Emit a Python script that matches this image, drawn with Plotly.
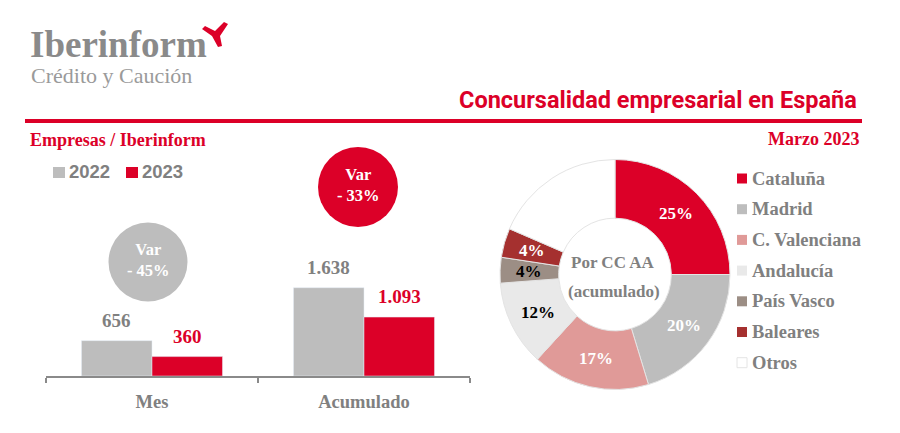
import math
import plotly.graph_objects as go

W, H = 900, 433
periods = ["Mes", "Acumulado"]
series_names = ["2022", "2023"]
values_2022 = [656, 1638]
values_2023 = [360, 1093]
regions = ["Cataluña", "Madrid", "C. Valenciana", "Andalucía", "País Vasco", "Baleares", "Otros"]
shares = [25, 20.3, 16.5, 12, 3.6, 4.1, 18.5]
share_labels = ["25%", "20%", "17%", "12%", "4%", "4%", ""]
variation_labels = ["Var<br>- 45%", "Var<br>- 33%"]

RED = "#DC0028"
GRAY = "#BDBDBD"
TXT = "#808080"
SLAB = "Liberation Serif"
region_colors = [RED, GRAY, "#E09A98", "#E9E9E9", "#9C8E85", "#A5302F", "#FFFFFF"]
label_colors = ["white", "white", "white", "black", "black", "white", "white"]

px = lambda x: x / W
py = lambda y: 1 - y / H

def fmt(v):
    return f"{v:,}".replace(",", ".")

fig = go.Figure()
fig.add_bar(x=periods, y=values_2022, name=series_names[0], marker_color=GRAY, showlegend=False)
fig.add_bar(x=periods, y=values_2023, name=series_names[1], marker_color=RED, showlegend=False)
fig.add_pie(
    labels=regions, values=shares, sort=False, direction="clockwise", rotation=0,
    hole=0.49, domain=dict(x=[px(500), px(730)], y=[py(389.5), py(159.5)]),
    marker=dict(colors=region_colors, line=dict(color="#E4E4E4", width=1)),
    textinfo="none", showlegend=False,
)

shapes = []
annotations = []
PAD = {"left": -2, "center": 0, "right": 2}

def text(x, y, s, size, color, anchor="left", family=SLAB, weight="bold"):
    annotations.append(dict(
        xref="paper", yref="paper", x=px(x + PAD[anchor]), y=py(y), text=s, showarrow=False,
        xanchor=anchor, yanchor="middle", align=anchor,
        font=dict(family=family, size=size, color=color, weight=weight),
    ))

def rect(x0, y0, x1, y1, color, line=None):
    shapes.append(dict(type="rect", xref="paper", yref="paper", x0=px(x0), x1=px(x1),
                       y0=py(y0), y1=py(y1), fillcolor=color,
                       line=dict(color=line or color, width=1 if line else 0)))

def circle(cx, cy, r, color):
    shapes.append(dict(type="circle", xref="paper", yref="paper", x0=px(cx - r), x1=px(cx + r),
                       y0=py(cy + r), y1=py(cy - r), fillcolor=color, line=dict(width=0)))

# logo
text(30, 45, "Iberinform", 37, "#8A8A8A")
text(31, 76, "Crédito y Caución", 22, "#9A9A9A", family="Liberation Serif", weight="normal")
star = [(228, 24), (220, 36), (222, 46), (218, 47), (212, 36), (202, 29), (205, 26), (215, 31), (224, 22)]
shapes.append(dict(type="path", xref="paper", yref="paper", fillcolor=RED, line=dict(width=0),
                   path="M " + " L ".join(f"{px(a)},{py(b)}" for a, b in star) + " Z"))

# header
text(857, 100, "Concursalidad empresarial en España", 23.5, RED, "right", "Roboto")
rect(25, 119, 862, 123, RED)
text(30, 140, "Empresas / Iberinform", 18, RED)
text(859, 139, "Marzo 2023", 18, RED, "right")

# bar legend
for x, name, col in zip([53, 126], series_names, [GRAY, RED]):
    rect(x, 167, x + 12, 178, col)
    text(x + 16, 172, name, 18.5, TXT, family="Liberation Sans")

# variation bubbles
for (cx, cy, r, col), s in zip([(148, 262, 39.5, GRAY), (358, 187, 40, RED)], variation_labels):
    circle(cx, cy, r, col)
    text(cx, cy - 2, s, 16.5, "white", "center")

# bar values
for tr_vals, col, shift in [(values_2022, TXT, -0.166), (values_2023, RED, 0.166)]:
    for i, v in enumerate(tr_vals):
        annotations.append(dict(
            xref="x", yref="y", x=i + shift, y=v, text=fmt(v), showarrow=False,
            yanchor="bottom", yshift=8,
            font=dict(family=SLAB, size=19, color=col, weight="bold"),
        ))

# donut slice labels, centred in the ring at each slice's mid-angle
total = sum(shares)
cumulative = 0
for share, label, col in zip(shares, share_labels, label_colors):
    mid = (cumulative + share / 2) / total * 2 * math.pi
    cumulative += share
    if label:
        text(615 + 86 * math.sin(mid), 274.5 - 86 * math.cos(mid), label, 17, col, "center")

# donut centre
text(613, 262, "Por CC AA", 17, TXT, "center")
text(614, 291, "(acumulado)", 17, TXT, "center")

# pie legend
for i, (name, col) in enumerate(zip(regions, region_colors)):
    y = 178.5 + i * 30.7
    rect(737, y - 5, 747, y + 5, col, "#E4E4E4" if name == "Otros" else None)
    text(752, y, name, 18.5, TXT)

fig.update_layout(
    width=W, height=H, margin=dict(l=0, r=0, t=0, b=0), autosize=False,
    paper_bgcolor="white", plot_bgcolor="white", barmode="group", bargap=0.335, bargroupgap=0,
    shapes=shapes, annotations=annotations, showlegend=False,
    xaxis=dict(domain=[px(46), px(470)], range=[-0.5, 1.5], type="category", tickson="boundaries",
               ticks="outside", ticklen=5, tickcolor="#8A8A8A", tickwidth=1.5,
               showline=True, linecolor="#8A8A8A", linewidth=1.5, showgrid=False, zeroline=False,
               ticklabelstandoff=8,
               tickfont=dict(family=SLAB, size=18.5, color=TXT, weight="bold")),
    yaxis=dict(domain=[py(376), py(200)], range=[0, 3265], visible=False),
)
fig.write_html("out.html", config=dict(displayModeBar=False),
               post_script="document.body.style.margin='0';document.body.style.overflow='hidden';")
